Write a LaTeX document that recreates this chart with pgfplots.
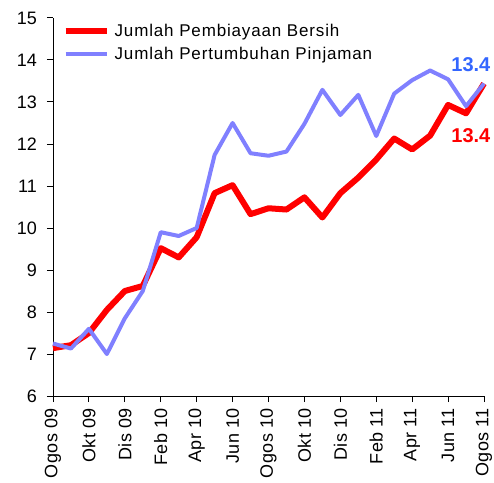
\documentclass[border=0pt]{standalone}
\usepackage{fontspec}
\setmainfont{Liberation Sans}
\newfontfamily\spaced{Liberation Sans}[LetterSpace=5]
\newfontfamily\xspaced{Liberation Sans}[LetterSpace=2]
\usepackage{pgfplots}
\pgfplotsset{compat=1.18}
\definecolor{myred}{HTML}{FF0000}
\definecolor{myblue}{HTML}{8080FF}
\definecolor{lblblue}{HTML}{3366FF}
\begin{document}
\begin{tikzpicture}
\begin{axis}[
  scale only axis,
  width=431pt, height=378pt,
  xmin=0, xmax=24, ymin=6, ymax=15,
  clip=false,
  axis x line*=bottom, axis y line*=left,
  axis line style={line width=1pt},
  tick align=outside,
  major tick length=6pt,
  tick style={line width=1pt, black},
  xtick={0,2,...,24},
  xticklabels={Ogos 09,Okt 09,Dis 09,Feb 10,Apr 10,Jun 10,Ogos 10,Okt 10,Dis 10,Feb 11,Apr 11,Jun 11,Ogos 11},
  x tick label style={rotate=90, anchor=east, inner sep=0pt, font=\fontsize{18}{21}\selectfont\xspaced},
  xticklabel shift=6pt,
  ytick={6,...,15},
  y tick label style={font=\fontsize{18}{21}\selectfont, inner sep=0pt},
  yticklabel shift=10pt,
  /pgf/number format/assume math mode=true,
  legend style={at={(rel axis cs:0.015,0.995)}, anchor=north west, draw=none, fill=none,
    font=\fontsize{17}{20}\selectfont\spaced, row sep=5pt},
  legend cell align=left,
  legend image code/.code={\draw[#1] (0pt,0pt) -- (41pt,0pt); \path (44pt,0pt);},
]
\addplot[myred, line width=6pt, line join=round] coordinates {
(0,7.14) (1,7.21) (2,7.5) (3,8.05) (4,8.5) (5,8.62) (6,9.52) (7,9.3) (8,9.78) (9,10.83) (10,11.02) (11,10.33) (12,10.47)
(13,10.44) (14,10.73) (15,10.25) (16,10.83) (17,11.2) (18,11.63) (19,12.13) (20,11.87) (21,12.2) (22,12.93) (23,12.73) (24,13.44)};
\addlegendentry{Jumlah Pembiayaan Bersih}
\addplot[myblue, line width=4pt, line join=round] coordinates {
(0,7.25) (1,7.13) (2,7.6) (3,7.0) (4,7.85) (5,8.5) (6,9.9) (7,9.81) (8,10.0) (9,11.74) (10,12.5) (11,11.78) (12,11.72)
(13,11.82) (14,12.48) (15,13.29) (16,12.69) (17,13.17) (18,12.19) (19,13.2) (20,13.52) (21,13.75) (22,13.54) (23,12.9) (24,13.44)};
\addlegendentry{Jumlah Pertumbuhan Pinjaman}
\node[text=lblblue, font=\fontsize{20}{23}\selectfont\bfseries] at (axis cs:23.27,13.88) {13.4};
\node[text=myred, font=\fontsize{20}{23}\selectfont\bfseries] at (axis cs:23.27,12.21) {13.4};
\coordinate (sw) at (rel axis cs:0,0);
\end{axis}
\path (sw) ++(-53pt,-86pt) rectangle ++(494pt,482pt);
\end{tikzpicture}
\end{document}
